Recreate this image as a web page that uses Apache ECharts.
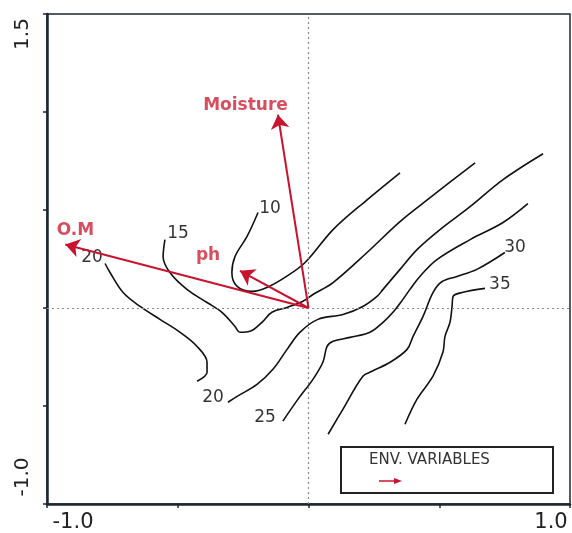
<!DOCTYPE html>
<html>
<head>
<meta charset="utf-8">
<script src="https://cdn.jsdelivr.net/npm/echarts@6/dist/echarts.min.js"></script>
<style>
  html, body { margin: 0; padding: 0; background: #fff; }
  #chart { width: 572px; height: 533px; }
</style>
</head>
<body>
<div id="chart"></div>
<script>
// isolines (x, y in ordination units)
var iso10 = [[-0.193, 0.487], [-0.235, 0.365], [-0.281, 0.263], [-0.293, 0.181], [-0.273, 0.110], [-0.216, 0.085],
  [-0.159, 0.105], [-0.090, 0.156], [-0.013, 0.232], [0.094, 0.400], [0.224, 0.552], [0.350, 0.690]]
var iso15 = [[-0.549, 0.349], [-0.556, 0.263], [-0.530, 0.181], [-0.465, 0.095], [-0.388, 0.028], [-0.331, -0.022],
  [-0.281, -0.094], [-0.262, -0.124], [-0.224, -0.119], [-0.178, -0.073], [-0.140, -0.022], [-0.082, 0.003],
  [-0.021, 0.034], [0.017, 0.069], [0.094, 0.130], [0.224, 0.283], [0.350, 0.441], [0.465, 0.563], [0.637, 0.741]]
var iso20a = [[-0.778, 0.227], [-0.759, 0.181], [-0.709, 0.079], [-0.644, 0.008], [-0.568, -0.058], [-0.491, -0.124],
  [-0.426, -0.196], [-0.388, -0.277], [-0.388, -0.328], [-0.426, -0.374]]
var iso20b = [[-0.308, -0.481], [-0.273, -0.451], [-0.197, -0.390], [-0.136, -0.313], [-0.082, -0.211], [-0.033, -0.124],
  [0.036, -0.058], [0.132, -0.033], [0.208, 0.008], [0.262, 0.059], [0.285, 0.095], [0.350, 0.197], [0.415, 0.298],
  [0.503, 0.400], [0.618, 0.517], [0.744, 0.655], [0.897, 0.787]]
var iso25 = [[-0.098, -0.577], [-0.040, -0.465], [0.017, -0.364], [0.055, -0.277], [0.071, -0.196], [0.094, -0.170],
  [0.159, -0.150], [0.235, -0.124], [0.285, -0.073], [0.323, -0.022], [0.361, 0.044], [0.388, 0.095], [0.426, 0.161],
  [0.491, 0.247], [0.618, 0.349], [0.744, 0.436], [0.839, 0.532]]
var iso30 = [[0.075, -0.644], [0.132, -0.516], [0.208, -0.348], [0.243, -0.323], [0.312, -0.277], [0.377, -0.211],
  [0.400, -0.145], [0.438, -0.043], [0.476, 0.079], [0.511, 0.135], [0.568, 0.161], [0.644, 0.197], [0.751, 0.283]]
var iso35 = [[0.369, -0.593], [0.415, -0.465], [0.476, -0.348], [0.514, -0.226], [0.522, -0.145], [0.541, -0.073],
  [0.549, 0.008], [0.553, 0.059], [0.587, 0.079], [0.675, 0.100]]

var isoLabels = ['10', '15', '20', '20', '25', '30', '35']
var isoLabelPos = [[-0.147, 0.506], [-0.499, 0.380], [-0.828, 0.258], [-0.365, -0.455], [-0.166, -0.557], [0.790, 0.309], [0.732, 0.120]]

// environmental variables (arrow tips)
var envNames = ['Moisture', 'O.M', 'ph']
var envTips = [[-0.117, 0.986], [-0.930, 0.324], [-0.262, 0.190]]
var envLabelPos = [[-0.241, 1.035], [-0.891, 0.393], [-0.384, 0.267]]

var xTicks = ['-1.0', '1.0']
var yTicks = ['-1.0', '1.5']

var RED = '#c8142f'
var RED_TEXT = '#cf2236'
var INK = '#1c2733'

var isoSets = [iso10, iso15, iso20a, iso20b, iso25, iso30, iso35]
var series = isoSets.map(function (pts) {
  return {
    type: 'line',
    data: pts,
    smooth: 0.35,
    symbol: 'none',
    silent: true,
    z: 2,
    lineStyle: { color: '#111', width: 1.6 }
  }
})

// dotted axes through the origin
series.push({
  type: 'line',
  data: [],
  markLine: {
    silent: true,
    symbol: 'none',
    label: { show: false },
    lineStyle: { color: '#8a8a8a', type: [2, 3], width: 1.2 },
    data: [{ xAxis: 0 }, { yAxis: 0 }]
  }
})

series.push({
  type: 'scatter',
  symbolSize: 0,
  silent: true,
  z: 4,
  data: isoLabels.map(function (t, i) { return { name: t, value: isoLabelPos[i] } }),
  label: {
    show: true,
    position: 'inside',
    formatter: '{b}',
    color: '#000',
    fontFamily: 'DejaVu Sans',
    fontSize: 17
  }
})

series.push({
  type: 'lines',
  coordinateSystem: 'cartesian2d',
  z: 5,
  symbol: ['none', 'arrow'],
  symbolSize: 14,
  lineStyle: { color: RED, width: 2, opacity: 1 },
  data: envTips.map(function (p) { return { coords: [[0, 0], p] } })
})

series.push({
  type: 'scatter',
  symbolSize: 0,
  silent: true,
  z: 6,
  data: envNames.map(function (t, i) { return { name: t, value: envLabelPos[i] } }),
  label: {
    show: true,
    position: 'inside',
    formatter: '{b}',
    color: RED_TEXT,
    fontFamily: 'DejaVu Sans',
    fontWeight: 'bold',
    fontSize: 17
  }
})

var chart = echarts.init(document.getElementById('chart'))
chart.setOption({
  animation: false,
  grid: { left: 47, right: 2, top: 14, bottom: 28, show: true, borderColor: INK, borderWidth: 1.5 },
  xAxis: {
    type: 'value', min: -1, max: 1, interval: 0.5,
    axisLine: { show: true, onZero: false, lineStyle: { color: INK, width: 2.5 } },
    axisTick: { show: true, length: 4, lineStyle: { color: INK, width: 1.5 } },
    splitLine: { show: false },
    axisLabel: {
      margin: 8,
      showMinLabel: true, showMaxLabel: true,
      formatter: function (v) {
        if (v === -1) return '{l|' + xTicks[0] + '}'
        if (v === 1) return '{r|' + xTicks[1] + '}'
        return ''
      },
      rich: {
        l: { fontSize: 21, fontFamily: 'DejaVu Sans', color: '#222', padding: [0, 0, 0, 52] },
        r: { fontSize: 21, fontFamily: 'DejaVu Sans', color: '#222', padding: [0, 38, 0, 0] }
      }
    }
  },
  yAxis: {
    type: 'value', min: -1, max: 1.5, interval: 0.5,
    axisLine: { show: true, onZero: false, lineStyle: { color: INK, width: 2.5 } },
    axisTick: { show: true, length: 4, lineStyle: { color: INK, width: 1.5 } },
    splitLine: { show: false },
    axisLabel: {
      rotate: 90,
      margin: 14,
      showMinLabel: true, showMaxLabel: true,
      formatter: function (v) {
        if (v === -1) return '{b|' + yTicks[0] + '}'
        if (v === 1.5) return '{t|' + yTicks[1] + '}'
        return ''
      },
      rich: {
        b: { fontSize: 20, fontFamily: 'DejaVu Sans', color: '#222', padding: [0, 0, 0, 54] },
        t: { fontSize: 20, fontFamily: 'DejaVu Sans', color: '#222', padding: [0, 40, 0, 0] }
      }
    }
  },
  graphic: [
    {
      type: 'rect', shape: { x: 341, y: 447, width: 212, height: 46 },
      style: { fill: '#fff', stroke: '#222', lineWidth: 2 }, z: 10
    },
    {
      type: 'text', x: 369, y: 453, z: 11,
      style: { text: 'ENV. VARIABLES', fill: '#333', font: '15px "DejaVu Sans"' }
    },
    {
      type: 'line', shape: { x1: 379, y1: 481, x2: 396, y2: 481 }, z: 11,
      style: { stroke: RED, lineWidth: 1.5 }
    },
    {
      type: 'polygon', shape: { points: [[402, 481], [394, 478], [394, 484]] }, z: 11,
      style: { fill: RED }
    }
  ],
  series: series
})
</script>
</body>
</html>
